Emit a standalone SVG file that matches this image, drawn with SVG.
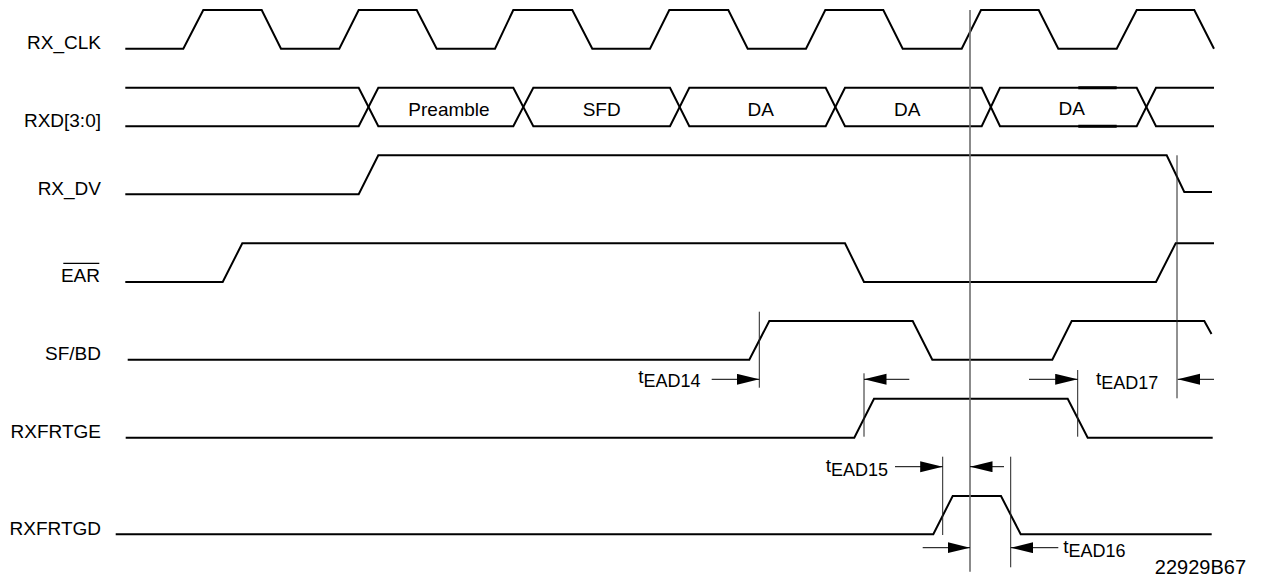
<svg xmlns="http://www.w3.org/2000/svg" width="1261" height="581" viewBox="0 0 1261 581">
  <style>
    .lbl { font-family: "Liberation Sans", Arial, sans-serif; font-size: 19px; fill: #000; }
    .sig { fill: none; stroke: #000; stroke-width: 2; stroke-linejoin: miter; }
    .thin { fill: none; stroke: #222; stroke-width: 1; }
    .gray { fill: none; stroke: #6e6e6e; stroke-width: 1.6; }
    .dim { fill: none; stroke: #000; stroke-width: 1; marker-end: url(#ah); }
    .sub { font-size: 18px; }
  </style>
  <defs>
    <marker id="ah" markerUnits="userSpaceOnUse" markerWidth="23" markerHeight="12" refX="22.5" refY="5.5" orient="auto">
      <path d="M0,0 L22.5,5.5 L0,11 Z" fill="#000"/>
    </marker>
  </defs>
  <rect width="1261" height="581" fill="#fff"/>

  <g id="rx_clk">
    <text class="lbl" x="101" y="49" text-anchor="end">RX_CLK</text>
    <path class="sig" d="M125.3,48.7 H183.3 L203.3,10 H261.7 L281,48.7 H339.3 L358.7,10 H416.7 L436.7,48.7 H495 L513.3,10 H572.3 L592.3,48.7 H650 L669.3,10 H728.3 L747.7,48.7 H806 L825.3,10 H883.3 L902.7,48.7 H961.7 L981,10 H1038.7 L1058.3,48.7 H1116.7 L1136.7,10 H1194.3 L1214,48.7"/>
  </g>

  <g id="rxd">
    <text class="lbl" x="101" y="127" text-anchor="end">RXD[3:0]</text>
    <path class="sig" d="M125.3,87.7 H358.7 L378.3,126.3 H513.3 L533.3,87.7 H670 L689.3,126.3 H825.7 L845,87.7 H981.7 L1000,126.3 H1136.7 L1156,87.7 H1214"/>
    <path class="sig" d="M125.3,126.3 H358.7 L378.3,87.7 H513.3 L533.3,126.3 H670 L689.3,87.7 H825.7 L845,126.3 H981.7 L1000,87.7 H1136.7 L1156,126.3 H1214"/>
    <path fill="none" stroke="#000" stroke-width="3" d="M1078.3,87.7 H1116.7 M1078.3,126.3 H1116.7"/>
    <text class="lbl" x="449" y="116" text-anchor="middle">Preamble</text>
    <text class="lbl" x="601.7" y="116" text-anchor="middle">SFD</text>
    <text class="lbl" x="760.7" y="116" text-anchor="middle">DA</text>
    <text class="lbl" x="907.3" y="116" text-anchor="middle">DA</text>
    <text class="lbl" x="1071.7" y="115" text-anchor="middle">DA</text>
  </g>

  <g id="rx_dv">
    <text class="lbl" x="101" y="195" text-anchor="end">RX_DV</text>
    <path class="sig" d="M125.3,194.3 H358.7 L378.3,155.3 H1166.7 L1184.3,192 H1212"/>
  </g>

  <g id="ear">
    <text class="lbl" x="100" y="282" text-anchor="end">EAR</text>
    <line x1="63.3" y1="263.3" x2="99.3" y2="263.3" stroke="#000" stroke-width="1.3"/>
    <path class="sig" d="M125.3,282 H222.7 L242.3,243.3 H845 L864,282 H1156 L1175.7,243.3 H1214"/>
  </g>

  <g id="sf_bd">
    <text class="lbl" x="101" y="360" text-anchor="end">SF/BD</text>
    <path class="sig" d="M127.7,359.7 H749.3 L769.3,321 H912.7 L932.3,359.7 H1052.3 L1071.7,321 H1204.3 L1211.5,334"/>
  </g>

  <g id="rxfrtge">
    <text class="lbl" x="101" y="437.7" text-anchor="end">RXFRTGE</text>
    <path class="sig" d="M125.7,437.7 H854.3 L874,398.7 H1067.7 L1087.7,437.7 H1212.7"/>
  </g>

  <g id="rxfrtgd">
    <text class="lbl" x="101" y="535" text-anchor="end">RXFRTGD</text>
    <path class="sig" d="M115.7,534.3 H933.3 L952.7,496 H1001 L1020.7,534.3 H1211.7"/>
  </g>

  <g id="connectors">
    <line class="gray" x1="970" y1="10" x2="970" y2="571.7"/>
    <line class="thin" x1="759.3" y1="311.7" x2="759.3" y2="387.7"/>
    <line class="thin" x1="864" y1="373.3" x2="864" y2="436.7"/>
    <line class="thin" x1="1077.7" y1="370" x2="1077.7" y2="436.7" stroke="#555"/>
    <line class="thin" x1="1177" y1="155.3" x2="1177" y2="398.3"/>
    <line class="thin" x1="942.7" y1="456.7" x2="942.7" y2="535" stroke="#555"/>
    <line class="thin" x1="1010.7" y1="456.7" x2="1010.7" y2="567.3" stroke="#555"/>

    <line class="dim" x1="711.7" y1="379.3" x2="759.3" y2="379.3"/>
    <line class="dim" x1="909.3" y1="379.3" x2="864" y2="379.3"/>
    <line class="dim" x1="1029" y1="379.3" x2="1077.7" y2="379.3"/>
    <line class="dim" x1="1214" y1="379.3" x2="1177.7" y2="379.3"/>
    <line class="dim" x1="895" y1="466.7" x2="942.7" y2="466.7"/>
    <line class="dim" x1="1004" y1="466.7" x2="970" y2="466.7"/>
    <line class="dim" x1="922.7" y1="547.7" x2="970" y2="547.7"/>
    <line class="dim" x1="1058.3" y1="547.7" x2="1010.7" y2="547.7"/>
  </g>

  <g id="timing-labels">
    <text class="lbl" x="638.3" y="383.3">t<tspan class="sub" y="387">EAD14</tspan></text>
    <text class="lbl" x="825.7" y="471.5">t<tspan class="sub" y="475.5">EAD15</tspan></text>
    <text class="lbl" x="1063.3" y="553">t<tspan class="sub" y="557">EAD16</tspan></text>
    <text class="lbl" x="1096" y="384.5">t<tspan class="sub" y="388.5">EAD17</tspan></text>
    <text class="lbl" x="1246" y="574" text-anchor="end" style="font-size:20px">22929B67</text>
  </g>
</svg>
